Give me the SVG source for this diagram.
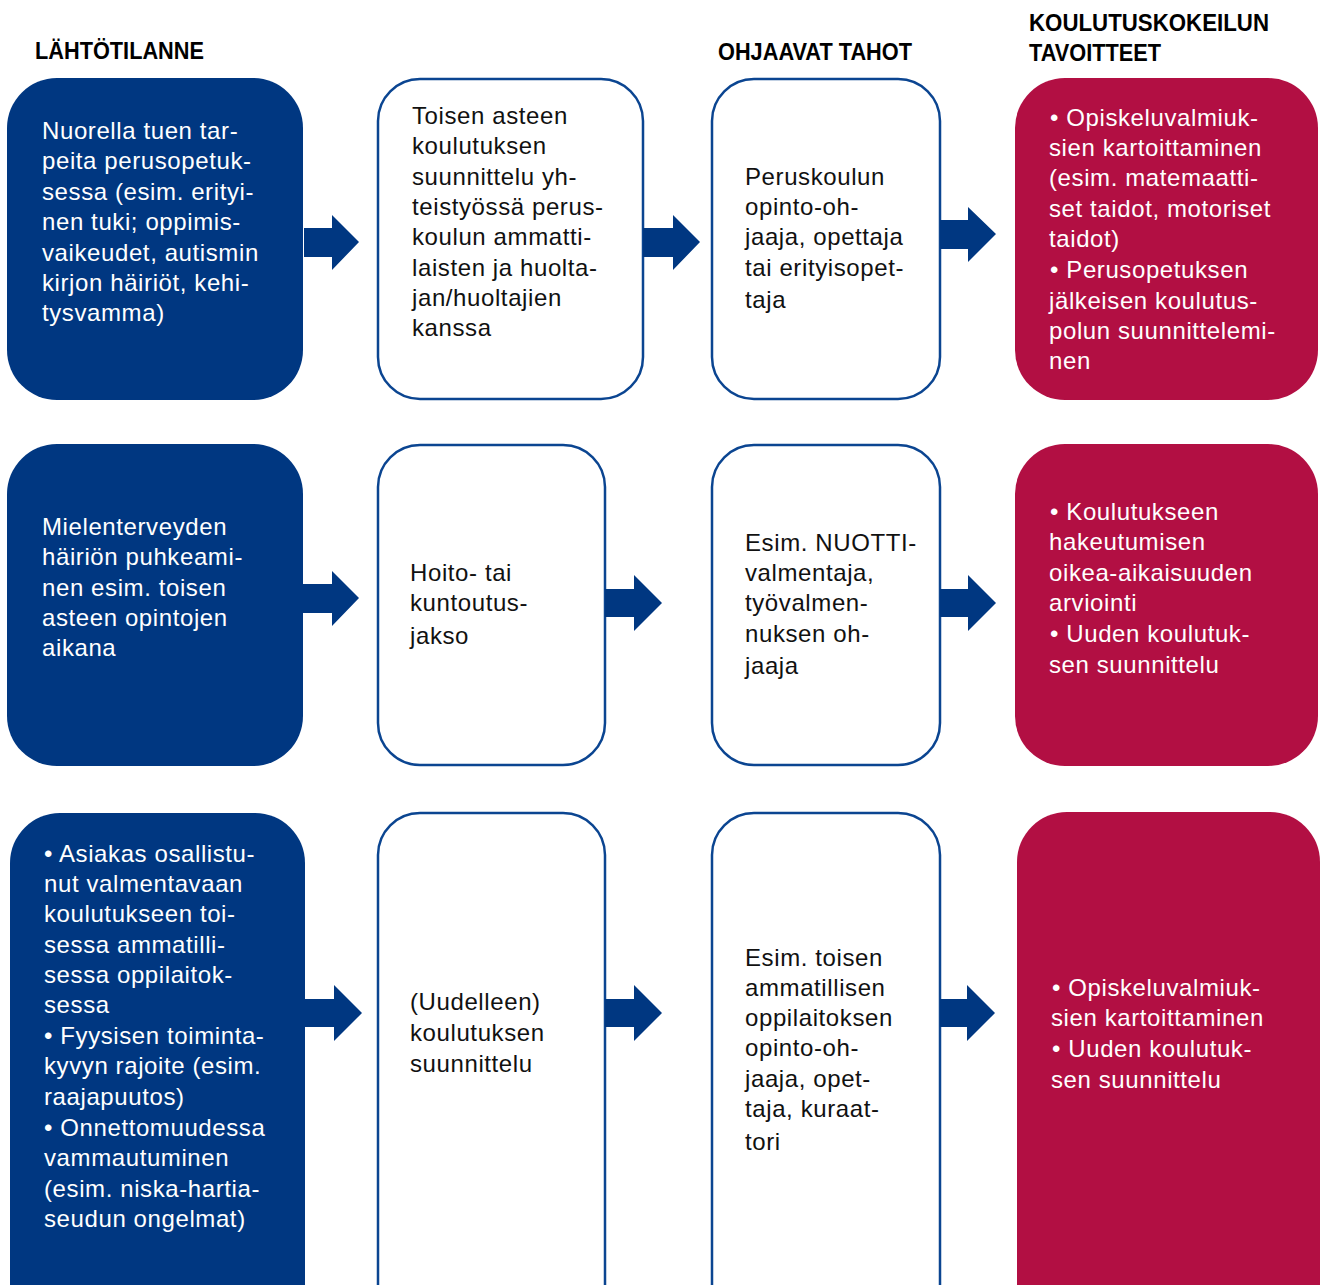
<svg xmlns="http://www.w3.org/2000/svg" width="1320" height="1285" viewBox="0 0 1320 1285">
<style>
.hdr{font-family:"Liberation Sans",Arial,sans-serif;font-weight:bold;font-size:23px;fill:#000}
.t{font-family:"Liberation Sans",Arial,sans-serif;font-size:24px;letter-spacing:0.6px}
.w{fill:#fff}
.k{fill:#111}
.blue{fill:#003781}
.red{fill:#B20F43}
.wb{fill:#fff;stroke:#0B4591;stroke-width:2.5}
.arr{fill:#003781}
</style>
<rect width="1320" height="1285" fill="#fff"/>
<g id="headers">
<text class="hdr" x="35" y="59" textLength="169" lengthAdjust="spacingAndGlyphs">LÄHTÖTILANNE</text>
<text class="hdr" x="718" y="60" textLength="194" lengthAdjust="spacingAndGlyphs">OHJAAVAT TAHOT</text>
<text class="hdr" x="1029" y="31" textLength="240" lengthAdjust="spacingAndGlyphs">KOULUTUSKOKEILUN</text>
<text class="hdr" x="1029" y="61" textLength="132" lengthAdjust="spacingAndGlyphs">TAVOITTEET</text>
</g>
<g id="r1a"><rect class="blue" x="7" y="78" width="296" height="322" rx="50"/>
<text class="t w"><tspan x="42" y="139">Nuorella tuen tar-</tspan><tspan x="42" y="169">peita perusopetuk-</tspan><tspan x="42" y="200">sessa (esim. erityi-</tspan><tspan x="42" y="230">nen tuki; oppimis-</tspan><tspan x="42" y="261">vaikeudet, autismin</tspan><tspan x="42" y="291">kirjon häiriöt, kehi-</tspan><tspan x="42" y="321">tysvamma)</tspan></text></g>
<g id="r1b"><rect class="wb" x="378" y="79" width="265" height="320" rx="42"/>
<text class="t k"><tspan x="412" y="124">Toisen asteen</tspan><tspan x="412" y="154">koulutuksen</tspan><tspan x="412" y="185">suunnittelu yh-</tspan><tspan x="412" y="215">teistyössä perus-</tspan><tspan x="412" y="245">koulun ammatti-</tspan><tspan x="412" y="276">laisten ja huolta-</tspan><tspan x="412" y="306">jan/huoltajien</tspan><tspan x="412" y="336">kanssa</tspan></text></g>
<g id="r1c"><rect class="wb" x="712" y="79" width="228" height="320" rx="42"/>
<text class="t k"><tspan x="745" y="185">Peruskoulun</tspan><tspan x="745" y="215">opinto-oh-</tspan><tspan x="745" y="245">jaaja, opettaja</tspan><tspan x="745" y="276">tai erityisopet-</tspan><tspan x="745" y="308">taja</tspan></text></g>
<g id="r1d"><rect class="red" x="1015" y="78" width="303" height="322" rx="50"/>
<text class="t w"><tspan x="1050" y="126">• Opiskeluvalmiuk-</tspan><tspan x="1049" y="156">sien kartoittaminen</tspan><tspan x="1049" y="186">(esim. matemaatti-</tspan><tspan x="1049" y="217">set taidot, motoriset</tspan><tspan x="1049" y="247">taidot)</tspan><tspan x="1050" y="278">• Perusopetuksen</tspan><tspan x="1049" y="309">jälkeisen koulutus-</tspan><tspan x="1049" y="339">polun suunnittelemi-</tspan><tspan x="1049" y="369">nen</tspan></text></g>
<g id="r2a"><rect class="blue" x="7" y="444" width="296" height="322" rx="50"/>
<text class="t w"><tspan x="42" y="535">Mielenterveyden</tspan><tspan x="42" y="565">häiriön puhkeami-</tspan><tspan x="42" y="596">nen esim. toisen</tspan><tspan x="42" y="626">asteen opintojen</tspan><tspan x="42" y="656">aikana</tspan></text></g>
<g id="r2b"><rect class="wb" x="378" y="445" width="227" height="320" rx="42"/>
<text class="t k"><tspan x="410" y="581">Hoito- tai</tspan><tspan x="410" y="611">kuntoutus-</tspan><tspan x="410" y="644">jakso</tspan></text></g>
<g id="r2c"><rect class="wb" x="712" y="445" width="228" height="320" rx="42"/>
<text class="t k"><tspan x="745" y="551">Esim. NUOTTI-</tspan><tspan x="745" y="581">valmentaja,</tspan><tspan x="745" y="611">työvalmen-</tspan><tspan x="745" y="642">nuksen oh-</tspan><tspan x="745" y="674">jaaja</tspan></text></g>
<g id="r2d"><rect class="red" x="1015" y="444" width="303" height="322" rx="50"/>
<text class="t w"><tspan x="1050" y="520">• Koulutukseen</tspan><tspan x="1049" y="550">hakeutumisen</tspan><tspan x="1049" y="581">oikea-aikaisuuden</tspan><tspan x="1049" y="611">arviointi</tspan><tspan x="1050" y="642">• Uuden koulutuk-</tspan><tspan x="1049" y="673">sen suunnittelu</tspan></text></g>
<g id="r3a"><rect class="blue" x="10" y="813" width="295" height="530" rx="50"/>
<text class="t w"><tspan x="44" y="862">• Asiakas osallistu-</tspan><tspan x="44" y="892">nut valmentavaan</tspan><tspan x="44" y="922">koulutukseen toi-</tspan><tspan x="44" y="953">sessa ammatilli-</tspan><tspan x="44" y="983">sessa oppilaitok-</tspan><tspan x="44" y="1013">sessa</tspan><tspan x="44" y="1044">• Fyysisen toiminta-</tspan><tspan x="44" y="1074">kyvyn rajoite (esim.</tspan><tspan x="44" y="1105">raajapuutos)</tspan><tspan x="44" y="1136">• Onnettomuudessa</tspan><tspan x="44" y="1166">vammautuminen</tspan><tspan x="44" y="1197">(esim. niska-hartia-</tspan><tspan x="44" y="1227">seudun ongelmat)</tspan></text></g>
<g id="r3b"><rect class="wb" x="378" y="813" width="227" height="530" rx="42"/>
<text class="t k"><tspan x="410" y="1010">(Uudelleen)</tspan><tspan x="410" y="1041">koulutuksen</tspan><tspan x="410" y="1072">suunnittelu</tspan></text></g>
<g id="r3c"><rect class="wb" x="712" y="813" width="228" height="530" rx="42"/>
<text class="t k"><tspan x="745" y="966">Esim. toisen</tspan><tspan x="745" y="996">ammatillisen</tspan><tspan x="745" y="1026">oppilaitoksen</tspan><tspan x="745" y="1056">opinto-oh-</tspan><tspan x="745" y="1087">jaaja, opet-</tspan><tspan x="745" y="1117">taja, kuraat-</tspan><tspan x="745" y="1150">tori</tspan></text></g>
<g id="r3d"><rect class="red" x="1017" y="812" width="303" height="530" rx="50"/>
<text class="t w"><tspan x="1052" y="996">• Opiskeluvalmiuk-</tspan><tspan x="1051" y="1026">sien kartoittaminen</tspan><tspan x="1052" y="1057">• Uuden koulutuk-</tspan><tspan x="1051" y="1088">sen suunnittelu</tspan></text></g>
<g id="connectors">
<path class="arr" d="M304,228 H332 V215 L359,242 L332,270 V257 H304 Z"/>
<path class="arr" d="M643,228 H673 V215 L700,242 L673,270 V257 H643 Z"/>
<path class="arr" d="M940,220 H968 V207 L996,234 L968,262 V249 H940 Z"/>
<path class="arr" d="M303,584 H332 V571 L359,598 L332,626 V613 H303 Z"/>
<path class="arr" d="M605,589 H634 V575 L662,603 L634,631 V617 H605 Z"/>
<path class="arr" d="M940,589 H968 V575 L996,603 L968,631 V617 H940 Z"/>
<path class="arr" d="M305,999 H334 V985 L362,1013 L334,1041 V1027 H305 Z"/>
<path class="arr" d="M605,999 H634 V985 L662,1013 L634,1041 V1027 H605 Z"/>
<path class="arr" d="M940,999 H967 V985 L995,1013 L967,1041 V1027 H940 Z"/>
</g>
</svg>
